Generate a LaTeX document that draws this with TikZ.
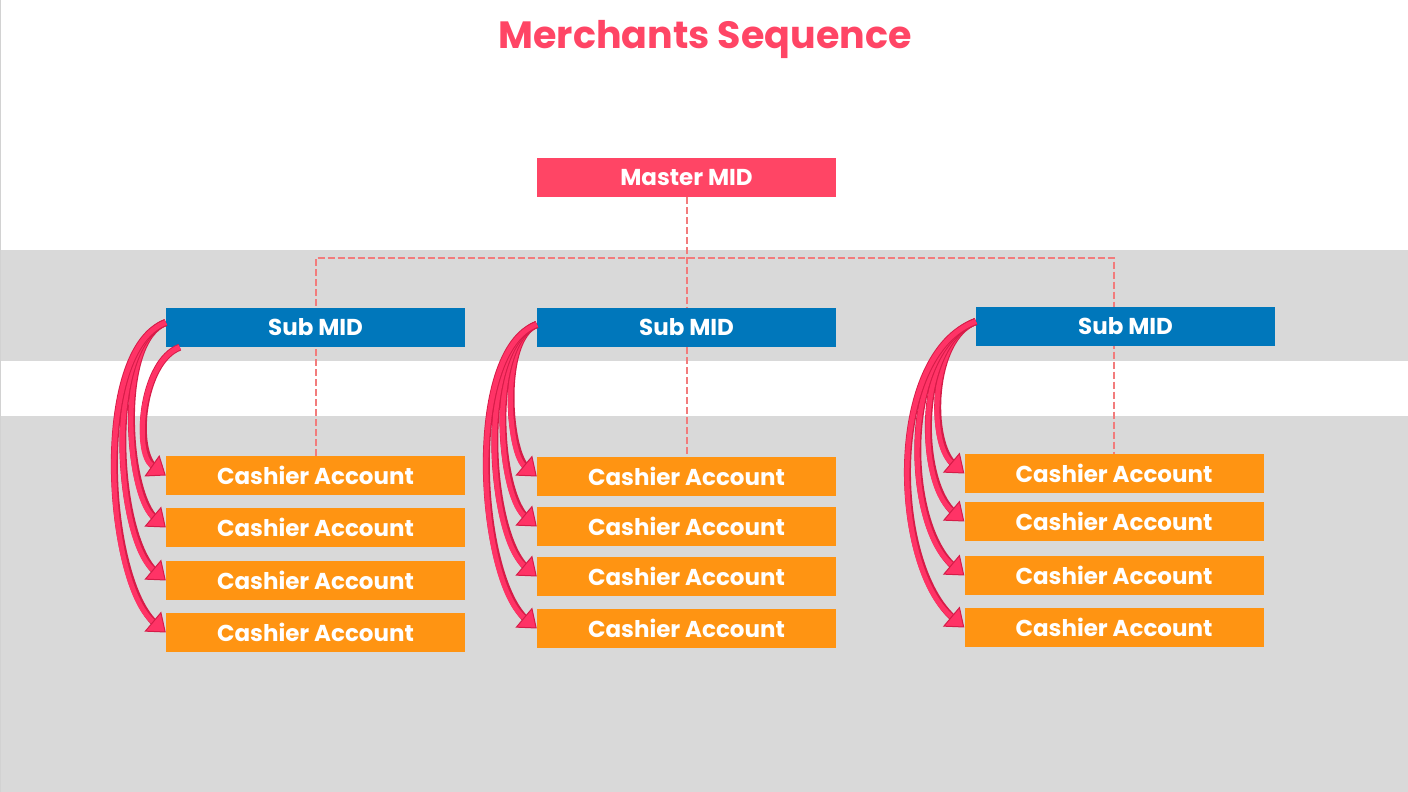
\documentclass[tikz,border=0pt]{standalone}
\usepackage{fontspec}
\setmainfont{Poppins}
\usetikzlibrary{positioning,arrows.meta}
\definecolor{titlered}{RGB}{255,69,101}
\definecolor{subblue}{RGB}{0,119,187}
\definecolor{cashorange}{RGB}{255,148,18}
\definecolor{bandgray}{RGB}{217,217,217}
\definecolor{linkred}{RGB}{242,124,124}
\definecolor{flowred}{RGB}{255,51,102}
\definecolor{flowedge}{RGB}{214,28,72}
\pgfdeclarelayer{background}
\pgfsetlayers{background,main}

\begin{document}
\begin{tikzpicture}[x=1pt,y=1pt,
  box/.style={rectangle,minimum width=299pt,minimum height=39pt,inner sep=0pt,text=white,font=\bfseries\fontsize{23}{26}\selectfont},
  master/.style={box,fill=titlered},
  submid/.style={box,fill=subblue},
  cashier/.style={box,fill=cashorange},
  link/.style={draw=linkred,line width=2pt,dash pattern=on 7pt off 3pt},
  flow/.style={draw=flowred,line width=5pt,
    preaction={draw=flowedge,line width=7pt,shorten >=12pt,-},
    -{Triangle[width=26pt,length=17pt,fill=flowred,color=flowedge,line width=1pt]}}]
\useasboundingbox (0,0) rectangle (1408,792);
% title and master
\node[font=\bfseries\fontsize{38}{40}\selectfont,text=titlered] (title) at (705,752) {Merchants Sequence};
\node[master] (master) at (686.5,614.5) {Master MID};
% sub MIDs
\node[submid] (s1) at (315.5,464.5) {Sub MID};
\node[submid] (s2) at (686.5,464.5) {Sub MID};
\node[submid] (s3) at (1125.5,465.5) {Sub MID};
% cashier accounts
\node[cashier] (c11) at (315.5,316.5) {Cashier Account};
\node[cashier] (c12) at (315.5,264.5) {Cashier Account};
\node[cashier] (c13) at (315.5,211.5) {Cashier Account};
\node[cashier] (c14) at (315.5,159.5) {Cashier Account};
\node[cashier] (c21) at (686.5,315.5) {Cashier Account};
\node[cashier] (c22) at (686.5,265.5) {Cashier Account};
\node[cashier] (c23) at (686.5,215.5) {Cashier Account};
\node[cashier] (c24) at (686.5,163.5) {Cashier Account};
\node[cashier] (c31) at (1114,318.5) {Cashier Account};
\node[cashier] (c32) at (1114,270.5) {Cashier Account};
\node[cashier] (c33) at (1114,216.5) {Cashier Account};
\node[cashier] (c34) at (1114,164.5) {Cashier Account};
% bands and dashed links
\begin{pgfonlayer}{background}
\fill[white] (0,0) rectangle (1408,792);
\fill[bandgray] (0,431) rectangle (1408,542);
\fill[bandgray] (0,0) rectangle (1408,376);
\draw[gray!35] (0.5,792) -- (0.5,0);
\coordinate (bar) at (686.5,534);
\draw[link] (master.south) -- (c21.north);
\draw[link] (c11.north) |- (bar) -| (c31.north);
\end{pgfonlayer}
% arrows
\draw[flow] ([xshift=14pt]s1.south west) to[out=200,in=145,looseness=0.8] (c11.west);
\foreach \k in {2,3,4}
  \draw[flow] ([yshift=5pt]s1.west) to[out=200,in=140,looseness=0.65] (c1\k.west);
\foreach \k in {1,2,3,4}
  \draw[flow] ([yshift=3pt]s2.west) to[out=200,in=140,looseness=0.65] (c2\k.west);
\foreach \k in {1,2,3,4}
  \draw[flow] ([yshift=5pt]s3.west) to[out=200,in=140,looseness=0.8] (c3\k.west);
\end{tikzpicture}
\end{document}
